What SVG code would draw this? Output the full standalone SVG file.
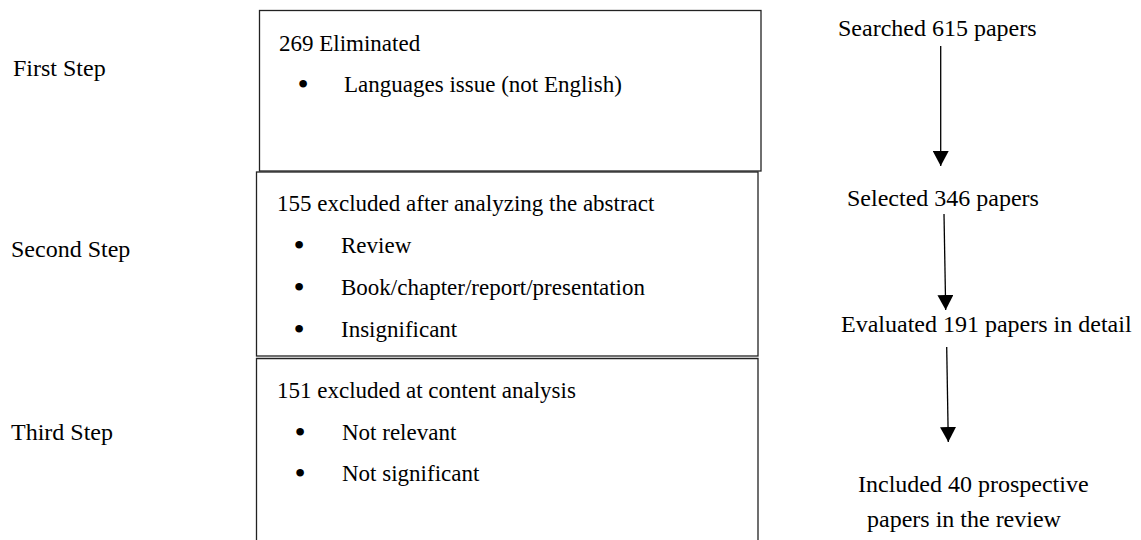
<svg xmlns="http://www.w3.org/2000/svg" width="1141" height="540" viewBox="0 0 1141 540">
<style>
text{font-family:"Liberation Serif","Times New Roman",serif;fill:#000}
.lab{font-size:24px}
.bx{font-size:23px}
.r{font-size:24px}
.box{fill:none;stroke:#222;stroke-width:1.3}
.con{stroke:#000;stroke-width:1.3;fill:none}
.bul{text-anchor:middle;font-size:32px}
</style>
<defs>
<marker id="ah" markerUnits="userSpaceOnUse" markerWidth="16" markerHeight="16" refX="15" refY="8" orient="auto" viewBox="0 0 16 16">
<path d="M0,0 L15,8 L0,16 Z" fill="#000"/>
</marker>
</defs>
<rect width="1141" height="540" fill="#fff"/>
<g id="labels">
<text class="lab" x="13" y="76">First Step</text>
<text class="lab" x="11" y="257">Second Step</text>
<text class="lab" x="11" y="440">Third Step</text>
</g>
<g id="box1">
<rect class="box" x="259.5" y="10.5" width="501.5" height="160.5"/>
<text class="bx" x="279" y="51">269 Eliminated</text>
<text class="bul" x="303" y="95">•</text>
<text class="bx" x="344" y="92">Languages issue (not English)</text>
</g>
<g id="box2">
<rect class="box" x="256.5" y="172" width="501.5" height="184"/>
<text class="bx" x="277" y="211">155 excluded after analyzing the abstract</text>
<text class="bul" x="299" y="256">•</text>
<text class="bx" x="341" y="253">Review</text>
<text class="bul" x="299" y="298">•</text>
<text class="bx" x="341" y="295">Book/chapter/report/presentation</text>
<text class="bul" x="299" y="340">•</text>
<text class="bx" x="341" y="337">Insignificant</text>
</g>
<g id="box3">
<path class="box" d="M256.5,541 V358.5 H758 V541"/>
<text class="bx" x="277" y="398">151 excluded at content analysis</text>
<text class="bul" x="300" y="443">•</text>
<text class="bx" x="342" y="440">Not relevant</text>
<text class="bul" x="300" y="484">•</text>
<text class="bx" x="342" y="481">Not significant</text>
</g>
<g id="n-searched"><text class="r" x="838" y="36">Searched 615 papers</text></g>
<g id="n-selected"><text class="r" x="847" y="206">Selected 346 papers</text></g>
<g id="n-evaluated"><text class="r" x="841" y="332">Evaluated 191 papers in detail</text></g>
<g id="n-included">
<text class="r" x="858" y="492">Included 40 prospective</text>
<text class="r" x="867" y="527">papers in the review</text>
</g>
<g id="connectors">
<line class="con" x1="940.7" y1="46" x2="940.7" y2="166" marker-end="url(#ah)"/>
<line class="con" x1="944" y1="214" x2="945.7" y2="310" marker-end="url(#ah)"/>
<line class="con" x1="946.7" y1="347" x2="948.3" y2="442" marker-end="url(#ah)"/>
</g>
</svg>
